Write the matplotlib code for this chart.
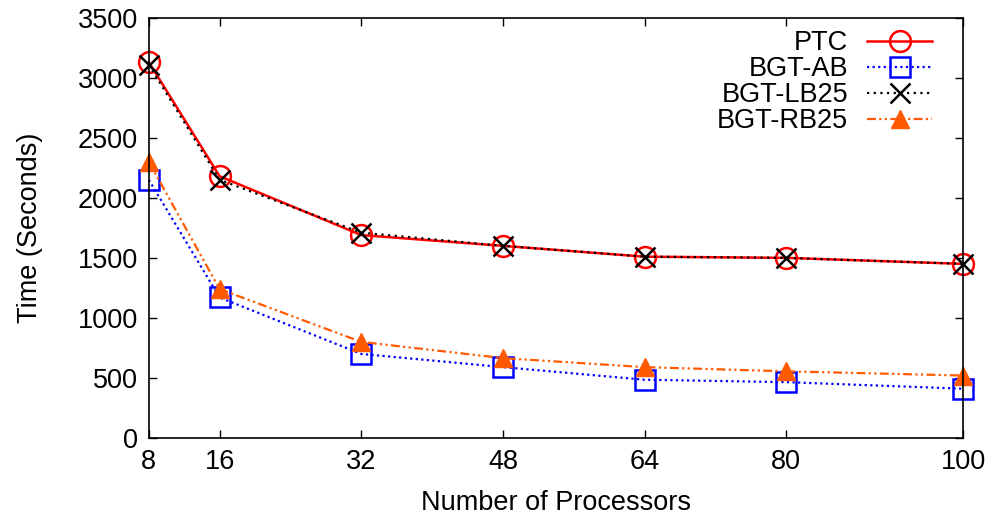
import matplotlib
matplotlib.use("Agg")
import matplotlib.pyplot as plt

processors = [8, 16, 32, 48, 64, 80, 100]
ptc = [3130, 2180, 1690, 1600, 1510, 1500, 1450]
bgt_ab = [2150, 1170, 700, 590, 485, 465, 410]
bgt_lb25 = [3110, 2150, 1710, 1600, 1510, 1500, 1450]
bgt_rb25 = [2300, 1240, 800, 665, 590, 555, 520]

plt.rcParams['font.family'] = ['Liberation Sans', 'DejaVu Sans']
FS = 19.5

fig = plt.figure(figsize=(9.92, 5.22), dpi=100)
ax = fig.add_axes([0.150, 0.161, 0.821, 0.805])

kw = dict(clip_on=False)
ax.plot(processors, ptc, color='#ff0000', lw=1.8, ls='-', marker='o', ms=15,
        mfc='none', mec='#ff0000', mew=1.8, label='PTC', **kw)
ax.plot(processors, bgt_ab, color='#0000ff', lw=1.6, ls=(0, (1, 1.5)), marker='s', ms=14,
        mfc='none', mec='#0000ff', mew=1.8, label='BGT-AB', **kw)
ax.plot(processors, bgt_lb25, color='#000000', lw=1.6, ls=(0, (1, 2)), marker='x', ms=15,
        mew=1.8, label='BGT-LB25', **kw)
ax.plot(processors, bgt_rb25, color='#ff5a00', lw=1.6, ls=(0, (4, 1.5, 1, 1.5, 1, 1.5)), marker='^', ms=13,
        mfc='#ff5a00', mec='#ff5a00', label='BGT-RB25', **kw)

ax.set_xlim(8, 100)
ax.set_ylim(0, 3500)
ax.set_xticks(processors)
ax.set_yticks(range(0, 3501, 500))
ax.tick_params(direction='in', top=True, right=True, length=6, width=1, labelsize=FS, pad=8)
for s in ax.spines.values():
    s.set_linewidth(1.2)

ax.set_xlabel('Number of Processors', fontsize=FS, labelpad=11)
ax.set_ylabel('Time (Seconds)', fontsize=FS, labelpad=25)

leg = ax.legend(loc='upper right', frameon=False, markerfirst=False, fontsize=FS,
                handlelength=2.4, labelspacing=0.0, borderaxespad=0.3, handletextpad=0.7,
                bbox_to_anchor=(0.985, 1.015))

fig.savefig('out.png', dpi=100)
